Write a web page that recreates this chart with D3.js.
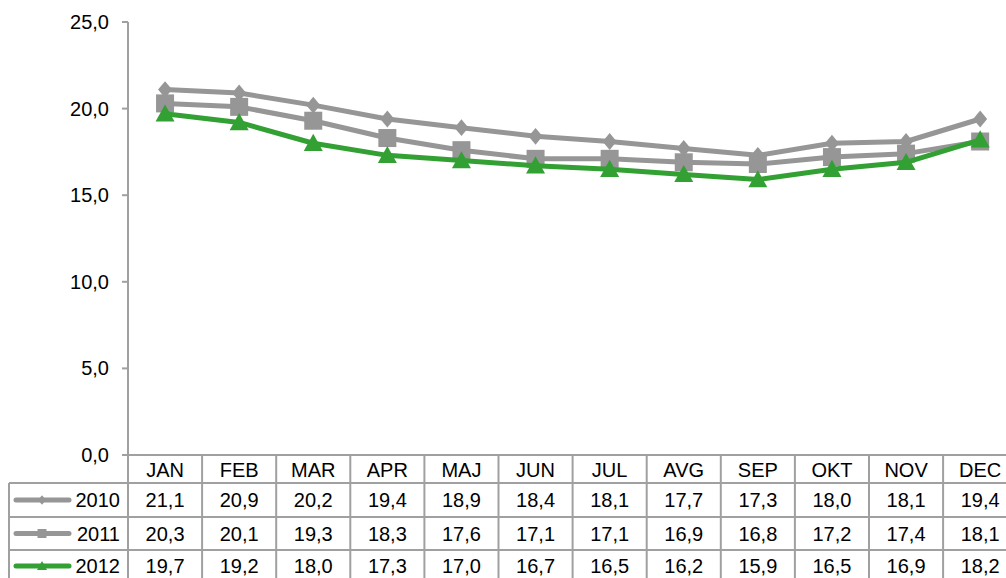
<!DOCTYPE html>
<html>
<head>
<meta charset="utf-8">
<script src="https://cdn.jsdelivr.net/npm/d3@7"></script>
<style>
  body { margin: 0; background: #fff; }
  text { font-family: "Liberation Sans", Arial, sans-serif; fill: #000; font-size: 20px; }
</style>
</head>
<body>
<div id="chart"></div>
<script>
// Chart data
const months = ['JAN', 'FEB', 'MAR', 'APR', 'MAJ', 'JUN', 'JUL', 'AVG', 'SEP', 'OKT', 'NOV', 'DEC'];
const years = ['2010', '2011', '2012'];
const values2010 = [21.1, 20.9, 20.2, 19.4, 18.9, 18.4, 18.1, 17.7, 17.3, 18.0, 18.1, 19.4];
const values2011 = [20.3, 20.1, 19.3, 18.3, 17.6, 17.1, 17.1, 16.9, 16.8, 17.2, 17.4, 18.1];
const values2012 = [19.7, 19.2, 18.0, 17.3, 17.0, 16.7, 16.5, 16.2, 15.9, 16.5, 16.9, 18.2];
const yTicks = [0, 5, 10, 15, 20, 25];

const width = 1006;
const height = 578;
const svg = d3.select('#chart').append('svg')
    .attr('width', width)
    .attr('height', height);

const plotLeft = 128;
const colW = 74.1;
const plotTop = 22;
const plotBottom = 455;
const rowTops = [455, 483, 517, 550, 584];
const legendLeft = 9;
const gridColor = '#a0a0a0';

const x = d3.scaleBand()
    .domain(months)
    .range([plotLeft, plotLeft + colW * months.length]);
const y = d3.scaleLinear().domain([0, 25]).range([plotBottom, plotTop]);
const fmt = v => d3.format('.1f')(v).replace('.', ',');

// Excel-like wide diamond (size = full width)
const wideDiamond = {
    draw(context, size) {
        const w = size / 2, h = size * 0.6;
        context.moveTo(0, -h);
        context.lineTo(w, 0);
        context.lineTo(0, h);
        context.lineTo(-w, 0);
        context.closePath();
    }
};
const square = {
    draw(context, size) {
        const s = size / 2;
        context.rect(-s, -s, size, size);
    }
};
const triangle = {
    draw(context, size) {
        const w = size / 2, h = size * 0.9;
        context.moveTo(0, -h * 0.55);
        context.lineTo(w, h * 0.45);
        context.lineTo(-w, h * 0.45);
        context.closePath();
    }
};

const series = [
    {name: years[0], values: values2010, color: '#969696', symbol: wideDiamond, size: 14, keySize: 8},
    {name: years[1], values: values2011, color: '#969696', symbol: square, size: 18, keySize: 9},
    {name: years[2], values: values2012, color: '#33a033', symbol: triangle, size: 19, keySize: 10}
];

// y axis with ticks on the left
svg.append('line')
    .attr('x1', plotLeft).attr('x2', plotLeft)
    .attr('y1', plotTop).attr('y2', height)
    .attr('stroke', gridColor).attr('stroke-width', 2);

yTicks.forEach(t => {
    svg.append('line')
        .attr('x1', plotLeft - 6).attr('x2', plotLeft)
        .attr('y1', y(t)).attr('y2', y(t))
        .attr('stroke', gridColor).attr('stroke-width', 2);
    svg.append('text')
        .attr('x', 109).attr('y', y(t))
        .attr('dy', '0.35em')
        .attr('text-anchor', 'end')
        .text(fmt(t));
});

// data table grid
const tableRight = x.range()[1];
svg.append('line')
    .attr('x1', plotLeft).attr('x2', tableRight)
    .attr('y1', rowTops[0]).attr('y2', rowTops[0])
    .attr('stroke', gridColor).attr('stroke-width', 2);
rowTops.slice(1).forEach(r => {
    svg.append('line')
        .attr('x1', legendLeft).attr('x2', tableRight)
        .attr('y1', r).attr('y2', r)
        .attr('stroke', gridColor).attr('stroke-width', 2);
});
svg.append('line')
    .attr('x1', legendLeft).attr('x2', legendLeft)
    .attr('y1', rowTops[1]).attr('y2', height)
    .attr('stroke', gridColor).attr('stroke-width', 2);
months.forEach(m => {
    svg.append('line')
        .attr('x1', x(m) + colW).attr('x2', x(m) + colW)
        .attr('y1', rowTops[0]).attr('y2', height)
        .attr('stroke', gridColor).attr('stroke-width', 2);
    svg.append('text')
        .attr('x', x(m) + colW / 2)
        .attr('y', (rowTops[0] + rowTops[1]) / 2 + 1)
        .attr('dy', '0.35em')
        .attr('text-anchor', 'middle')
        .text(m);
});

// table rows with legend keys
series.forEach((s, i) => {
    const cy = (rowTops[i + 1] + rowTops[i + 2]) / 2;
    const ty = i === 2 ? cy - 1 : cy;
    svg.append('line')
        .attr('x1', 16).attr('x2', 69)
        .attr('y1', ty).attr('y2', ty)
        .attr('stroke', s.color).attr('stroke-width', 5)
        .attr('stroke-linecap', 'round');
    svg.append('path')
        .attr('d', d3.symbol().type(s.symbol).size(s.keySize)())
        .attr('transform', `translate(42,${ty})`)
        .attr('fill', s.color);
    svg.append('text')
        .attr('x', 120).attr('y', ty)
        .attr('dy', '0.35em')
        .attr('text-anchor', 'end')
        .text(s.name);
    s.values.forEach((v, j) => {
        svg.append('text')
            .attr('x', x(months[j]) + colW / 2).attr('y', ty)
            .attr('dy', '0.35em')
            .attr('text-anchor', 'middle')
            .text(fmt(v));
    });
});

// lines and markers
const line = d3.line()
    .x((d, i) => x(months[i]) + colW / 2)
    .y(d => y(d));

series.forEach(s => {
    const g = svg.append('g');
    g.append('path')
        .attr('d', line(s.values))
        .attr('fill', 'none')
        .attr('stroke', s.color)
        .attr('stroke-width', 5)
        .attr('stroke-linejoin', 'round');
    g.selectAll('path.marker')
        .data(s.values)
        .enter()
        .append('path')
        .attr('class', 'marker')
        .attr('d', d3.symbol().type(s.symbol).size(s.size)())
        .attr('transform', (d, i) => `translate(${x(months[i]) + colW / 2},${y(d)})`)
        .attr('fill', s.color);
});
</script>
</body>
</html>
